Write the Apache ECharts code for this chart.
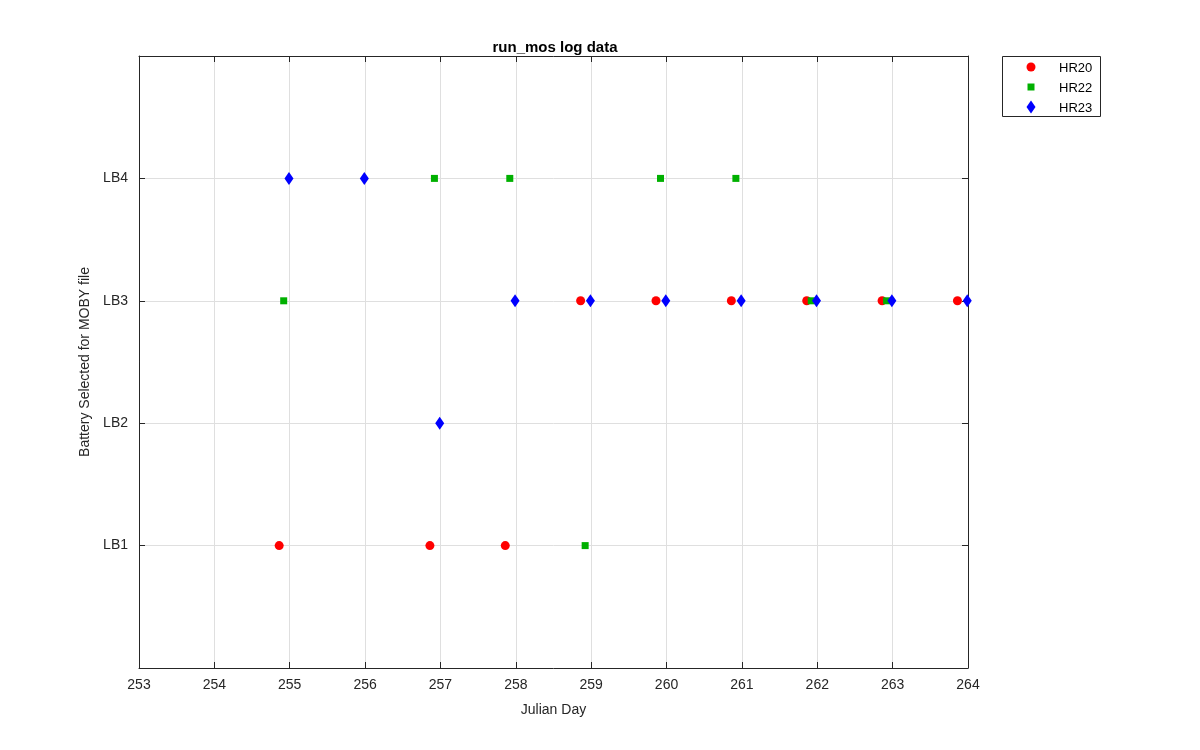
<!DOCTYPE html>
<html><head><meta charset="utf-8">
<script src="https://cdn.jsdelivr.net/npm/echarts@6/dist/echarts.min.js"></script>
<style>html,body{margin:0;padding:0;background:#fff}#c{width:1200px;height:750px}</style>
</head><body><div id="c"></div>
<script>
const yLabels = ['', 'LB1', 'LB2', 'LB3', 'LB4', ''];
const hr20 = [[254.86,1],[256.86,1],[257.86,1],[258.86,3],[259.86,3],[260.86,3],[261.86,3],[262.86,3],[263.86,3]];
const hr22 = [[254.92,3],[256.92,4],[257.92,4],[258.92,1],[259.92,4],[260.92,4],[261.92,3],[262.92,3]];
const hr23 = [[254.99,4],[255.99,4],[256.99,2],[257.99,3],[258.99,3],[259.99,3],[260.99,3],[261.99,3],[262.99,3],[263.99,3]];
const names = ['HR20','HR22','HR23'];
const colors = ['#ff0000','#00b000','#0000ff'];

const font = 'Liberation Sans, Arial, sans-serif';
const tc = '#262626';
const chart = echarts.init(document.getElementById('c'));
const axisCommon = {
  axisLine:{show:true,onZero:false,lineStyle:{color:tc,width:1}},
  axisTick:{show:true,inside:true,length:6,lineStyle:{color:tc}},
};
chart.setOption({
  animation:false,
  title:{text:'run_mos log data',left:550,top:35,textAlign:'center',
    textStyle:{fontFamily:font,fontSize:15,fontWeight:'bold',color:'#000'}},
  grid:{left:139,right:232,top:56,bottom:82,show:false},
  xAxis:[
    Object.assign({type:'value',min:253,max:264,interval:1,position:'bottom',
      name:'Julian Day',nameLocation:'middle',nameGap:35,
      nameTextStyle:{fontFamily:font,fontSize:14,color:tc},
      axisLabel:{fontFamily:font,fontSize:14,color:tc,margin:10},
      splitLine:{show:true,lineStyle:{color:'#dfdfdf'}}},axisCommon),
    Object.assign({type:'value',min:253,max:264,interval:1,position:'top',
      axisLabel:{show:false},splitLine:{show:false}},axisCommon)
  ],
  yAxis:[
    Object.assign({type:'value',min:0,max:5,interval:1,position:'left',
      name:'Battery Selected for MOBY file',nameLocation:'middle',nameGap:34,
      nameTextStyle:{fontFamily:font,fontSize:14,color:tc},
      axisLabel:{fontFamily:font,fontSize:14,color:tc,margin:11,formatter:v=>yLabels[v]||''},
      splitLine:{show:true,lineStyle:{color:'#dfdfdf'}}},axisCommon),
    Object.assign({type:'value',min:0,max:5,interval:1,position:'right',
      axisLabel:{show:false},splitLine:{show:false}},axisCommon)
  ],
  series:[
    {name:names[0],type:'scatter',data:hr20,symbol:'circle',symbolSize:9,itemStyle:{color:colors[0],opacity:1}},
    {name:names[1],type:'scatter',data:hr22,symbol:'rect',symbolSize:7,itemStyle:{color:colors[1],opacity:1}},
    {name:names[2],type:'scatter',data:hr23,symbol:'diamond',symbolSize:[9,13],itemStyle:{color:colors[2],opacity:1}}
  ],
  graphic:[
    {type:'rect',shape:{x:1002.5,y:56.5,width:98,height:60},style:{fill:'#fff',stroke:tc,lineWidth:1}},
    {type:'circle',shape:{cx:1031,cy:67,r:4.5},style:{fill:colors[0]}},
    {type:'rect',shape:{x:1027.5,y:83.5,width:7,height:7},style:{fill:colors[1]}},
    {type:'polygon',shape:{points:[[1031,100.5],[1035.5,107],[1031,113.5],[1026.5,107]]},style:{fill:colors[2]}},
    {type:'text',x:1059,y:68,style:{text:names[0],fontFamily:font,fontSize:13,fill:'#000',textVerticalAlign:'middle'}},
    {type:'text',x:1059,y:88,style:{text:names[1],fontFamily:font,fontSize:13,fill:'#000',textVerticalAlign:'middle'}},
    {type:'text',x:1059,y:108,style:{text:names[2],fontFamily:font,fontSize:13,fill:'#000',textVerticalAlign:'middle'}}
  ]
});
</script></body></html>
